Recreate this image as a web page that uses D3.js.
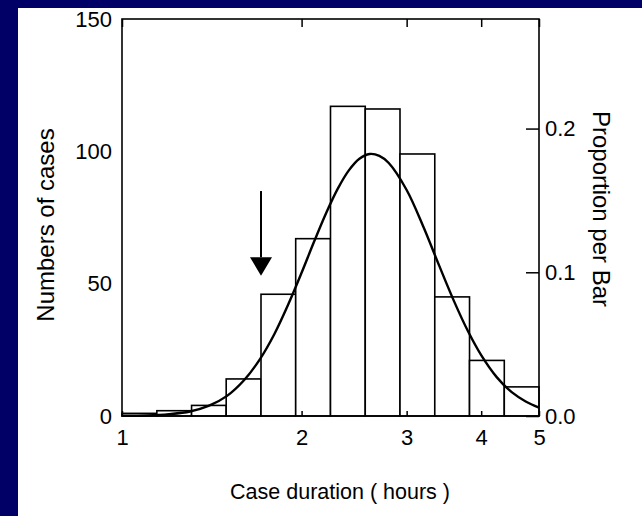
<!DOCTYPE html>
<html>
<head>
<meta charset="utf-8">
<script src="https://cdn.jsdelivr.net/npm/d3@7"></script>
<style>
  body { margin: 0; background: #000066; }
  text { font-family: "Liberation Sans", Arial, sans-serif; fill: #000; }
</style>
</head>
<body>
<div id="chart-area"></div>
<script>
// histogram of case durations, log x axis, bins of equal width in log space
const binEdges = [1, 1.144, 1.308, 1.495, 1.71, 1.955, 2.236, 2.557, 2.924, 3.344, 3.824, 4.373, 5]
const counts = [1, 2, 4, 14, 46, 67, 117, 116, 99, 45, 21, 11]

// fitted curve
const curveHours = [1, 1.1, 1.2, 1.3, 1.4, 1.5, 1.6, 1.7, 1.8, 1.9, 2, 2.1, 2.2, 2.3, 2.4, 2.5, 2.6, 2.7, 2.8, 3, 3.2, 3.4, 3.6, 3.8, 4, 4.25, 4.5, 4.75, 5]
const curveCases = [0.1, 0.2, 0.7, 1.7, 3.9, 7.6, 13.4, 21.2, 30.9, 42.2, 54.1, 66, 76.8, 85.9, 92.8, 97.2, 99, 98.3, 95.6, 85.4, 71.5, 56.9, 43.5, 32.1, 23, 14.6, 9, 5.5, 3.2]

const xTicks = [1, 2, 3, 4, 5]
const yTicks = [0, 50, 100, 150]
const propTicks = [0, 0.1, 0.2]

// arrow marker: position in hours, shaft top / head top / tip in cases
const arrowHours = 1.71
const arrowTop = 85, arrowHead = 60, arrowTip = 53

const W = 642, H = 516
const margin = { top: 19, right: 103, bottom: 100, left: 122 }
const width = W - margin.left - margin.right,
      height = H - margin.top - margin.bottom

const svg = d3.select("#chart-area").append("svg")
    .attr("width", W)
    .attr("height", H)
    .style("display", "block")

svg.append("rect")
    .attr("x", 18).attr("y", 8)
    .attr("width", W - 18).attr("height", H - 8)
    .attr("fill", "#fff")

const g = svg.append("g")
    .attr("transform", "translate(" + margin.left + "," + margin.top + ")")

const x = d3.scaleLog().domain([1, 5]).range([0, width])
const y = d3.scaleLinear().domain([0, 150]).range([height, 0])
const total = d3.sum(counts)
const y2 = d3.scaleLinear().domain([0, 150 / total]).range([height, 0])

// bars
const bins = counts.map(function(c, i) { return { x0: binEdges[i], x1: binEdges[i + 1], n: c } })
g.selectAll("rect.bar")
    .data(bins)
    .enter().append("rect")
        .attr("class", "bar")
        .attr("x", function(d) { return x(d.x0) })
        .attr("y", function(d) { return y(d.n) })
        .attr("width", function(d) { return x(d.x1) - x(d.x0) })
        .attr("height", function(d) { return height - y(d.n) })
        .attr("fill", "#fff")
        .attr("stroke", "#000")
        .attr("stroke-width", 1.6)

// fitted curve
const line = d3.line()
    .x(function(d) { return x(d[0]) })
    .y(function(d) { return y(d[1]) })
    .curve(d3.curveCatmullRom)
g.append("path")
    .datum(curveHours.map(function(h, i) { return [h, curveCases[i]] }))
    .attr("d", line)
    .attr("fill", "none")
    .attr("stroke", "#000")
    .attr("stroke-width", 2.4)

// frame
g.append("rect")
    .attr("width", width).attr("height", height)
    .attr("fill", "none")
    .attr("stroke", "#000")
    .attr("stroke-width", 1.6)

// axes
g.append("g")
    .attr("transform", "translate(0," + height + ")")
    .call(d3.axisBottom(x).tickValues(xTicks).tickFormat(d3.format("d")).tickSize(-5).tickPadding(13))
g.append("g")
    .call(d3.axisTop(x).tickValues(xTicks).tickFormat("").tickSize(-8))
g.append("g")
    .call(d3.axisLeft(y).tickValues(yTicks).tickSize(0).tickPadding(10))
g.append("g")
    .attr("transform", "translate(" + width + ",0)")
    .call(d3.axisRight(y2).tickValues(propTicks).tickFormat(d3.format(".1f")).tickSize(-13).tickPadding(6))

g.selectAll(".domain").remove()
g.selectAll(".tick line").attr("stroke", "#000").attr("stroke-width", 1.5)
g.selectAll(".tick text")
    .attr("font-size", "22px")
    .attr("font-family", "Liberation Sans, Arial, sans-serif")
    .attr("fill", "#000")

// arrow
const ax = x(arrowHours)
g.append("line")
    .attr("x1", ax).attr("x2", ax)
    .attr("y1", y(arrowTop)).attr("y2", y(arrowHead))
    .attr("stroke", "#000")
    .attr("stroke-width", 2)
g.append("path")
    .attr("d", "M" + (ax - 11) + "," + y(arrowHead) + "L" + (ax + 11) + "," + y(arrowHead) + "L" + ax + "," + y(arrowTip) + "Z")
    .attr("fill", "#000")

// axis labels
g.append("text")
    .attr("x", 340 - margin.left)
    .attr("y", 499 - margin.top)
    .attr("font-size", "21.5px")
    .attr("text-anchor", "middle")
    .text("Case duration ( hours )")

g.append("text")
    .attr("transform", "translate(" + (54 - margin.left) + "," + (225 - margin.top) + ") rotate(-90)")
    .attr("font-size", "24px")
    .attr("text-anchor", "middle")
    .text("Numbers of cases")

g.append("text")
    .attr("transform", "translate(" + (593 - margin.left) + "," + (209 - margin.top) + ") rotate(90)")
    .attr("font-size", "24px")
    .attr("text-anchor", "middle")
    .text("Proportion per Bar")
</script>
</body>
</html>
